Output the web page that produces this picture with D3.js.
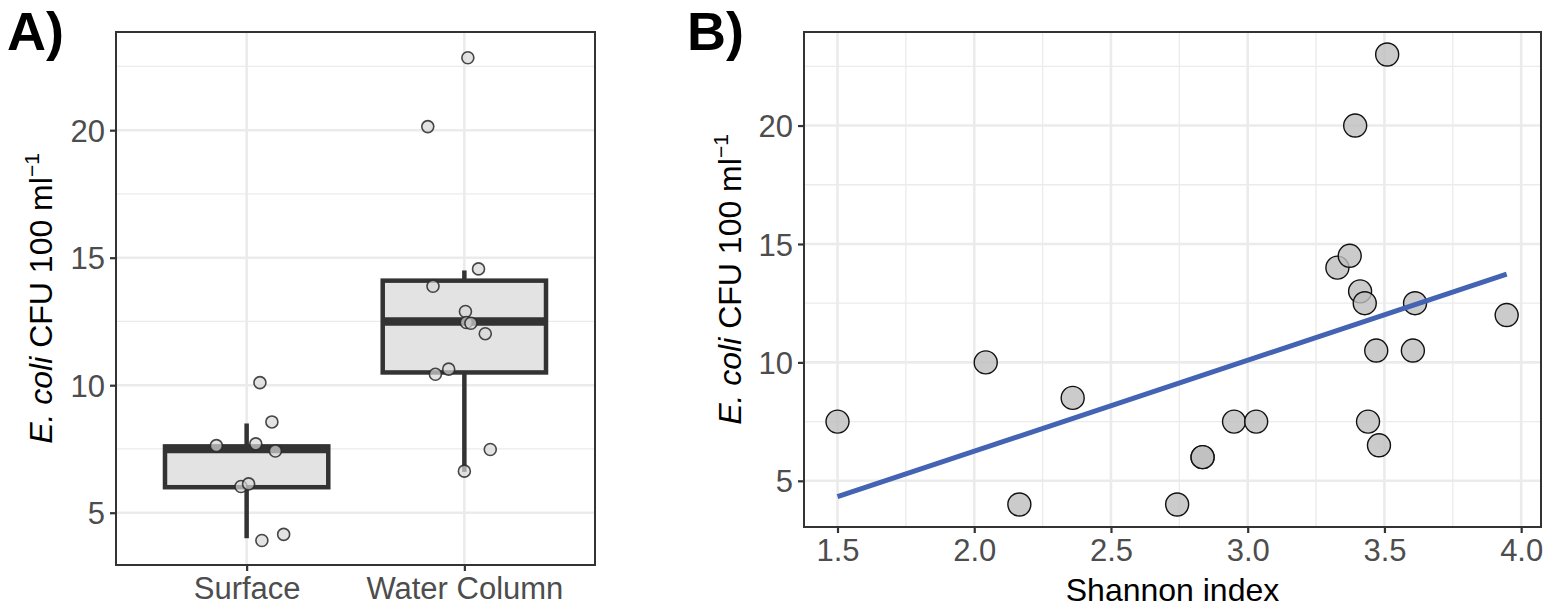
<!DOCTYPE html>
<html>
<head>
<meta charset="utf-8">
<script src="https://cdn.jsdelivr.net/npm/d3@7"></script>
<style>
  body { margin: 0; background: #fff; }
  text { font-family: "Liberation Sans", Arial, Helvetica, sans-serif; }
</style>
</head>
<body>
<div id="chart"></div>
<script>
// ---- data ----
const groups = ['Surface', 'Water Column'];

// panel A: jittered points (value, horizontal jitter in category units)
const surfaceValues = [10.1, 8.56, 7.63, 7.7, 7.42, 6.03, 6.13, 3.91, 4.15];
const surfaceJitter = [0.061, 0.116, -0.139, 0.042, 0.132, -0.026, 0.009, 0.07, 0.17];
const waterValues = [22.84, 20.14, 14.56, 13.88, 12.89, 12.46, 12.43, 12.02, 10.63, 10.43, 7.48, 6.63];
const waterJitter = [0.016, -0.168, 0.065, -0.144, 0.005, 0.009, 0.03, 0.096, -0.072, -0.133, 0.119, 0];

// panel A: box statistics per group
const boxLow = [4.0, 6.6];
const boxQ1 = [6.0, 10.5];
const boxMedian = [7.5, 12.5];
const boxQ3 = [7.6, 14.1];
const boxHigh = [8.5, 14.5];

// panel B: Shannon index vs E. coli
const shannon = [1.5, 2.042, 2.165, 2.36, 2.742, 2.835, 2.835, 2.95, 3.031, 3.328, 3.373,
  3.393, 3.51, 3.411, 3.428, 3.44, 3.47, 3.48, 3.612, 3.604, 3.947];
const ecoli = [7.5, 10, 4, 8.5, 4, 6, 6, 7.5, 7.5, 14, 14.5, 20, 23, 13, 12.5, 7.5, 10.5, 6.5,
  12.5, 10.5, 12];

const yTicks = [5, 10, 15, 20];
const yMinor = [7.5, 12.5, 17.5, 22.5];
const xTicksB = [1.5, 2.0, 2.5, 3.0, 3.5, 4.0];
const xMinorB = [1.75, 2.25, 2.75, 3.25, 3.75];

const width = 1549;
const height = 608;
const gridColor = '#ebebeb';
const darkColor = '#333333';

const svg = d3.select('#chart')
  .append('svg')
  .attr('width', width)
  .attr('height', height);

// y axis title with italic species name and superscript
function yTitle(x, y) {
  const t = svg.append('text')
    .attr('transform', `translate(${x},${y}) rotate(-90)`)
    .attr('text-anchor', 'middle')
    .style('font-size', '32px')
    .attr('fill', '#000');
  t.append('tspan').style('font-style', 'italic').text('E. coli');
  t.append('tspan').text(' CFU 100 ml');
  t.append('tspan').attr('dy', -13).style('font-size', '21px').text('\u22121');
}

// ================= panel A =================
const aLeft = 116, aRight = 595, aTop = 32, aBottom = 565;

const xA = d3.scalePoint()
  .domain(groups)
  .range([aLeft, aRight])
  .padding(0.6);
const stepA = xA.step();

const yA = d3.scaleLinear()
  .domain([2.95, 23.85])
  .range([aBottom, aTop]);

const gA = svg.append('g');

// grid
gA.selectAll('.minorA')
  .data(yMinor)
  .enter()
  .append('line')
  .attr('x1', aLeft).attr('x2', aRight)
  .attr('y1', (d) => yA(d)).attr('y2', (d) => yA(d))
  .attr('stroke', gridColor).attr('stroke-width', 1.3);

gA.selectAll('.majorA')
  .data(yTicks)
  .enter()
  .append('line')
  .attr('x1', aLeft).attr('x2', aRight)
  .attr('y1', (d) => yA(d)).attr('y2', (d) => yA(d))
  .attr('stroke', gridColor).attr('stroke-width', 2.6);

gA.selectAll('.majorAx')
  .data(groups)
  .enter()
  .append('line')
  .attr('x1', (d) => xA(d)).attr('x2', (d) => xA(d))
  .attr('y1', aTop).attr('y2', aBottom)
  .attr('stroke', gridColor).attr('stroke-width', 2.6);

// boxes
const boxW = stepA * 0.75;
groups.forEach((g, i) => {
  const cx = xA(g);
  gA.append('line')
    .attr('x1', cx).attr('x2', cx)
    .attr('y1', yA(boxHigh[i])).attr('y2', yA(boxQ3[i]))
    .attr('stroke', darkColor).attr('stroke-width', 4.5);
  gA.append('line')
    .attr('x1', cx).attr('x2', cx)
    .attr('y1', yA(boxQ1[i])).attr('y2', yA(boxLow[i]))
    .attr('stroke', darkColor).attr('stroke-width', 4.5);
  gA.append('rect')
    .attr('x', cx - boxW / 2)
    .attr('y', yA(boxQ3[i]))
    .attr('width', boxW)
    .attr('height', yA(boxQ1[i]) - yA(boxQ3[i]))
    .attr('fill', '#e3e3e3')
    .attr('stroke', darkColor)
    .attr('stroke-width', 4.5);
  gA.append('line')
    .attr('x1', cx - boxW / 2).attr('x2', cx + boxW / 2)
    .attr('y1', yA(boxMedian[i])).attr('y2', yA(boxMedian[i]))
    .attr('stroke', darkColor).attr('stroke-width', 8.5);
});

// jittered points
const pointsA = surfaceValues.map((v, i) => ({ g: groups[0], v: v, j: surfaceJitter[i] }))
  .concat(waterValues.map((v, i) => ({ g: groups[1], v: v, j: waterJitter[i] })));

gA.selectAll('.ptA')
  .data(pointsA)
  .enter()
  .append('circle')
  .attr('class', 'ptA')
  .attr('cx', (d) => xA(d.g) + d.j * stepA)
  .attr('cy', (d) => yA(d.v))
  .attr('r', 6)
  .attr('fill', 'rgba(215,215,215,0.7)')
  .attr('stroke', 'rgba(40,40,40,0.85)')
  .attr('stroke-width', 1.6);

// border
gA.append('rect')
  .attr('x', aLeft).attr('y', aTop)
  .attr('width', aRight - aLeft).attr('height', aBottom - aTop)
  .attr('fill', 'none')
  .attr('stroke', darkColor)
  .attr('stroke-width', 2);

// axes
const axisLeftA = gA.append('g')
  .attr('transform', `translate(${aLeft},0)`)
  .call(d3.axisLeft(yA).tickValues(yTicks).tickSize(6).tickPadding(5));
const axisBottomA = gA.append('g')
  .attr('transform', `translate(0,${aBottom})`)
  .call(d3.axisBottom(xA).tickSize(6).tickPadding(6));

[axisLeftA, axisBottomA].forEach((ax) => {
  ax.select('.domain').remove();
  ax.selectAll('line').attr('stroke', darkColor).attr('stroke-width', 2.2);
  ax.selectAll('text')
    .attr('fill', '#4d4d4d')
    .style('font-size', '31px');
});
axisLeftA.selectAll('text').attr('dy', '0.36em');

yTitle(52, (aTop + aBottom) / 2);

svg.append('text')
  .attr('x', 7).attr('y', 50)
  .style('font-size', '54px')
  .style('font-weight', 'bold')
  .text('A)');

// ================= panel B =================
const bLeft = 804, bRight = 1541, bTop = 32, bBottom = 527;

const xB = d3.scaleLinear()
  .domain([1.3775, 4.0725])
  .range([bLeft, bRight]);
const yB = d3.scaleLinear()
  .domain([3.05, 23.95])
  .range([bBottom, bTop]);

const gB = svg.append('g');

gB.selectAll('.minorBy')
  .data(yMinor)
  .enter()
  .append('line')
  .attr('x1', bLeft).attr('x2', bRight)
  .attr('y1', (d) => yB(d)).attr('y2', (d) => yB(d))
  .attr('stroke', gridColor).attr('stroke-width', 1.3);

gB.selectAll('.minorBx')
  .data(xMinorB)
  .enter()
  .append('line')
  .attr('x1', (d) => xB(d)).attr('x2', (d) => xB(d))
  .attr('y1', bTop).attr('y2', bBottom)
  .attr('stroke', gridColor).attr('stroke-width', 1.3);

gB.selectAll('.majorBy')
  .data(yTicks)
  .enter()
  .append('line')
  .attr('x1', bLeft).attr('x2', bRight)
  .attr('y1', (d) => yB(d)).attr('y2', (d) => yB(d))
  .attr('stroke', gridColor).attr('stroke-width', 2.6);

gB.selectAll('.majorBx')
  .data(xTicksB)
  .enter()
  .append('line')
  .attr('x1', (d) => xB(d)).attr('x2', (d) => xB(d))
  .attr('y1', bTop).attr('y2', bBottom)
  .attr('stroke', gridColor).attr('stroke-width', 2.6);

// points
const pointsB = shannon.map((s, i) => ({ x: s, y: ecoli[i] }));

gB.selectAll('.ptB')
  .data(pointsB)
  .enter()
  .append('circle')
  .attr('class', 'ptB')
  .attr('cx', (d) => xB(d.x))
  .attr('cy', (d) => yB(d.y))
  .attr('r', 11.5)
  .attr('fill', 'rgba(190,190,190,0.8)')
  .attr('stroke', '#111')
  .attr('stroke-width', 1.4);

// least squares fit
const mx = d3.mean(shannon);
const my = d3.mean(ecoli);
const slope = d3.sum(shannon, (s, i) => (s - mx) * (ecoli[i] - my)) /
  d3.sum(shannon, (s) => (s - mx) * (s - mx));
const intercept = my - slope * mx;
const fitX = d3.extent(shannon);

gB.append('path')
  .datum(fitX)
  .attr('fill', 'none')
  .attr('stroke', '#4363b3')
  .attr('stroke-width', 5)
  .attr('d', d3.line()
    .x((d) => xB(d))
    .y((d) => yB(intercept + slope * d)));

gB.append('rect')
  .attr('x', bLeft).attr('y', bTop)
  .attr('width', bRight - bLeft).attr('height', bBottom - bTop)
  .attr('fill', 'none')
  .attr('stroke', darkColor)
  .attr('stroke-width', 2);

const axisLeftB = gB.append('g')
  .attr('transform', `translate(${bLeft},0)`)
  .call(d3.axisLeft(yB).tickValues(yTicks).tickSize(6).tickPadding(5));
const axisBottomB = gB.append('g')
  .attr('transform', `translate(0,${bBottom})`)
  .call(d3.axisBottom(xB).tickValues(xTicksB).tickFormat(d3.format('.1f')).tickSize(6).tickPadding(6));

[axisLeftB, axisBottomB].forEach((ax) => {
  ax.select('.domain').remove();
  ax.selectAll('line').attr('stroke', darkColor).attr('stroke-width', 2.2);
  ax.selectAll('text')
    .attr('fill', '#4d4d4d')
    .style('font-size', '31px');
});
axisLeftB.selectAll('text').attr('dy', '0.36em');

svg.append('text')
  .attr('x', (bLeft + bRight) / 2)
  .attr('y', 601)
  .attr('text-anchor', 'middle')
  .style('font-size', '32px')
  .text('Shannon index');

yTitle(741, (bTop + bBottom) / 2);

svg.append('text')
  .attr('x', 687).attr('y', 50)
  .style('font-size', '54px')
  .style('font-weight', 'bold')
  .text('B)');
</script>
</body>
</html>
